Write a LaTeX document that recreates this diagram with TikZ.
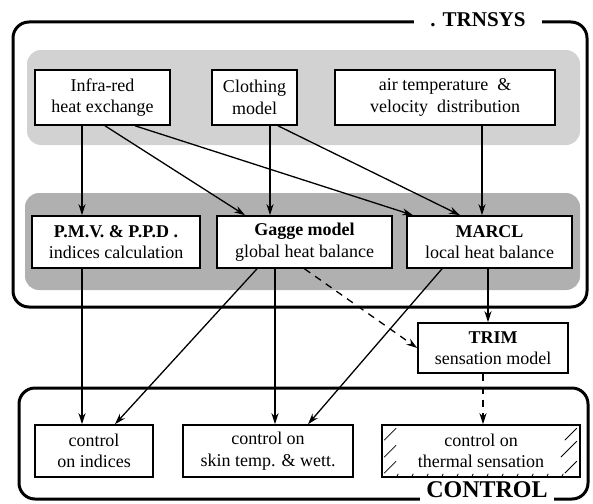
\documentclass[tikz,border=0pt]{standalone}
\usepackage{fontspec}
\setmainfont{Liberation Serif}
\usetikzlibrary{arrows.meta}

\begin{document}
\begin{tikzpicture}[
    x=1pt, y=-1pt,
    model/.style={
        rectangle,
        draw=black,
        line width=1.6pt,
        fill=white,
        align=center,
        inner sep=0pt,
        font=\fontsize{18}{21.5}\selectfont
    },
    frame/.style={
        line width=3pt,
        rounded corners=16pt
    },
    zone/.style={
        rounded corners=14pt
    },
    title/.style={
        fill=white,
        inner ysep=1pt,
        font=\fontsize{21}{24}\selectfont\bfseries
    },
    flecha/.style={
        -{Stealth[length=11pt,width=7pt]},
        line width=1.3pt
    },
    dflecha/.style={
        flecha,
        dash pattern=on 7pt off 6pt
    }
]
    \useasboundingbox (0,0) rectangle (593,503);

    % frames and shaded zones
    \draw[frame] (13,22) rectangle (587,307);
    \draw[frame] (19,388) rectangle (588,499);
    \fill[gray!35, zone] (27,50) rectangle (580,145);
    \fill[gray!62, zone] (25,193) rectangle (580,290);

    \node[title, inner xsep=16pt] (trnsys) at (478,20) {. TRNSYS};
    \node[title, inner xsep=6pt, inner ysep=3pt, font=\fontsize{24}{26}\selectfont\bfseries] (control) at (487,490) {CONTROL};

    % models
    \node[model, minimum width=135pt, minimum height=55pt] (infra) at (102.5,97.5) {Infra-red\\heat exchange};
    \node[model, minimum width=85pt, minimum height=55pt] (cloth) at (254.5,97.5) {Clothing\\model};
    \node[model, minimum width=220pt, minimum height=55pt] (air) at (445,97.5) {air temperature \ \&\\velocity \ distribution};

    \node[model, minimum width=168pt, minimum height=52pt] (pmv) at (116,242) {\textbf{P.M.V. \& P.P.D .}\\indices calculation};
    \node[model, minimum width=175pt, minimum height=52pt] (gagge) at (304.5,242) {\textbf{Gagge model}\\global heat balance};
    \node[model, minimum width=165pt, minimum height=52pt] (marcl) at (489.5,242) {\textbf{MARCL}\\local heat balance};

    \node[model, minimum width=150pt, minimum height=50pt] (trim) at (493,348) {\textbf{TRIM}\\sensation model};

    \node[model, minimum width=118pt, minimum height=52pt] (ind) at (94,451) {control\\on indices};
    \node[model, minimum width=170pt, minimum height=52pt] (skin) at (268,451) {control on\\skin temp. \& wett.};
    \node[model, minimum width=198pt, minimum height=52pt] (therm) at (481,451) {control on\\thermal sensation};

    % hatching of the thermal sensation box
    \draw[line width=0.8pt] ([shift={(3,16)}]therm.north west) -- ++(12,-12);
    \draw[line width=0.8pt] ([shift={(3,33)}]therm.north west) -- ++(12,-12);
    \draw[line width=0.8pt] ([shift={(3,49)}]therm.north west) -- ++(12,-12);
    \draw[line width=0.8pt] ([shift={(-16,16)}]therm.north east) -- ++(12,-12);
    \draw[line width=0.8pt] ([shift={(-20,33)}]therm.north east) -- ++(16,-16);
    \draw[line width=0.8pt] ([shift={(-16,49)}]therm.north east) -- ++(12,-12);
    \foreach \k in {1,...,12}
        \draw[line width=0.8pt] ([shift={(\k*15,0)}]therm.south west) -- ++(2,-4);

    % connectors
    \draw[flecha] ([xshift=-20.5pt]infra.south) -- ([xshift=-34pt]pmv.north);
    \draw[flecha] ([xshift=2.5pt]infra.south) -- ([xshift=-59.5pt]gagge.north);
    \draw[flecha] ([xshift=32.5pt]infra.south) -- ([xshift=-76.5pt]marcl.north);
    \draw[flecha] ([xshift=15.5pt]cloth.south) -- ([xshift=-34.5pt]gagge.north);
    \draw[flecha] ([xshift=23.5pt]cloth.south) -- ([xshift=-29.5pt]marcl.north);
    \draw[flecha] ([xshift=37pt]air.south) -- ([xshift=-7.5pt]marcl.north);

    \draw[flecha] ([xshift=-34pt]pmv.south) -- ([xshift=-12pt]ind.north);
    \draw[flecha] ([xshift=-47.5pt]gagge.south) -- ([xshift=21pt]ind.north);
    \draw[flecha] ([xshift=-29.5pt]gagge.south) -- ([xshift=7pt]skin.north);
    \draw[dflecha] (gagge.south) -- (trim.west);
    \draw[flecha] ([xshift=-47.5pt]marcl.south) -- ([xshift=40pt]skin.north);
    \draw[flecha] ([xshift=-1.5pt]marcl.south) -- ([xshift=-5pt]trim.north);
    \draw[dflecha] ([xshift=-10pt]trim.south) -- ([xshift=2pt]therm.north);

\end{tikzpicture}
\end{document}
